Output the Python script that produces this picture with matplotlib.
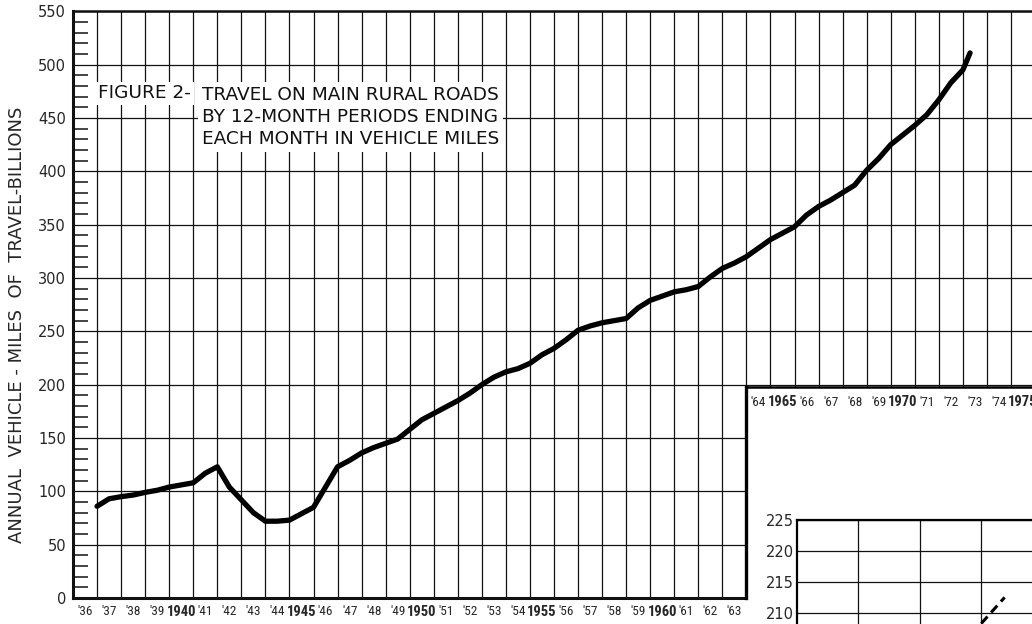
import numpy as np
import matplotlib
matplotlib.use('Agg')
import matplotlib.pyplot as plt
import matplotlib.font_manager as fm

# 12-month moving travel, billions of vehicle-miles
anios = [1937.0, 1937.5, 1938.0, 1938.5, 1939.0, 1939.5, 1940.0, 1940.5,
         1941.0, 1941.5, 1942.0, 1942.5, 1943.0, 1943.5, 1944.0, 1944.5,
         1945.0, 1945.5, 1946.0, 1946.5, 1947.0, 1947.5, 1948.0, 1948.5,
         1949.0, 1949.5, 1950.0, 1950.5, 1951.0, 1951.5, 1952.0, 1952.5,
         1953.0, 1953.5, 1954.0, 1954.5, 1955.0, 1955.5, 1956.0, 1956.5,
         1957.0, 1957.5, 1958.0, 1958.5, 1959.0, 1959.5, 1960.0, 1960.5,
         1961.0, 1961.5, 1962.0, 1962.5, 1963.0, 1963.5, 1964.0, 1964.5,
         1965.0, 1965.5, 1966.0, 1966.5, 1967.0, 1967.5, 1968.0, 1968.5,
         1969.0, 1969.5, 1970.0, 1970.5, 1971.0, 1971.5, 1972.0, 1972.5,
         1973.0, 1973.3]
millas = [86, 93, 95, 96.5, 99, 101, 104, 106,
          108, 117, 123, 104, 92, 80, 72, 72,
          73, 79, 85, 104, 123, 129, 136, 141,
          145, 149, 158, 167, 173, 179, 185, 192,
          200, 207, 212, 215, 220, 228, 234, 242,
          251, 255, 258, 260, 262, 272, 279, 283,
          287, 289, 292, 301, 309, 314, 320, 328,
          336, 342, 348, 359, 367, 373, 380, 387,
          401, 412, 425, 434, 443, 453, 467, 483,
          495, 511]

ticks_y = [0, 50, 100, 150, 200, 250, 300, 350, 400, 450, 500, 550]
anios_abajo = list(range(1936, 1964))
anios_caja = list(range(1964, 1976))

# small inset in the corner (only its top part is on the page)
inset_x = [3.01, 3.39]
inset_y = [208.3, 212.5]
inset_ticks = [210, 215, 220, 225]

titulo1 = 'FIGURE 2-'
titulo2 = 'TRAVEL ON MAIN RURAL ROADS\nBY 12-MONTH PERIODS ENDING\nEACH MONTH IN VEHICLE MILES'
ylabel = 'ANNUAL  VEHICLE - MILES  OF  TRAVEL-BILLIONS'

tinta = '#111111'
gris = '#262626'

nombres = {f.name for f in fm.fontManager.ttflist}
angosta = 'DejaVu Sans'
for n in ['Liberation Sans Narrow', 'DejaVu Sans Condensed', 'Roboto Condensed']:
    if n in nombres:
        angosta = n
        break


def etiqueta(a):
    if a % 5 == 0:
        return str(a)
    return "'" + str(a)[2:]


W, H = 1032, 624


def caja(x0, y0, x1, y1):
    # pixel box -> figure fraction
    return [x0 / W, 1 - y1 / H, (x1 - x0) / W, (y1 - y0) / H]


fig = plt.figure(figsize=(10.32, 6.24), dpi=100)

# main chart
ax = fig.add_axes(caja(73, 11.3, 1035, 598))
ax.set_xlim(1936, 1976)
ax.set_ylim(0, 550)

ax.set_xticks(range(1936, 1977))
ax.set_xticklabels([])
ax.set_xticks([a + 0.5 for a in anios_abajo], minor=True)
ax.set_xticklabels([etiqueta(a) for a in anios_abajo], minor=True)
ax.tick_params(axis='x', which='both', length=0)
ax.tick_params(axis='x', which='minor', pad=5, labelsize=9.5, labelcolor=gris)
for lbl, a in zip(ax.xaxis.get_minorticklabels(), anios_abajo):
    lbl.set_family(angosta)
    if a % 5 == 0:
        lbl.set_fontweight('bold')
        lbl.set_fontsize(10.5)

ax.set_yticks(ticks_y)
ax.set_yticks(np.arange(0, 551, 10), minor=True)
ax.tick_params(axis='y', which='major', length=0, pad=5, labelsize=10.5, labelcolor=gris)
ax.tick_params(axis='y', which='minor', direction='in', length=11, width=1.1, color=tinta)

ax.grid(True, which='major', color=tinta, lw=0.9)
ax.set_axisbelow(True)

ax.spines['right'].set_visible(False)
ax.spines['bottom'].set_bounds(1936, 1964)
ax.spines['bottom'].set_linewidth(2.2)
ax.spines['left'].set_linewidth(2.2)
ax.spines['top'].set_linewidth(1.8)
for s in ax.spines.values():
    s.set_color(tinta)

ax.plot(anios, millas, color='black', lw=3.8, solid_capstyle='round', zorder=5)

ax.set_ylabel(ylabel, fontsize=13, color=gris)
ax.yaxis.set_label_coords(-0.049, 0.465)

ax.text(1937.04, 473, titulo1, fontsize=13.3, color=tinta, ha='left', va='center',
        bbox=dict(facecolor='white', edgecolor='none', pad=2), zorder=6)
ax.text(1941.36, 451, titulo2, fontsize=13.3, color=tinta, ha='left', va='center',
        linespacing=1.27, bbox=dict(facecolor='white', edgecolor='none', pad=3), zorder=6)

# white box over the lower right corner
ax2 = fig.add_axes(caja(746.4, 387, 1035, 598))
ax2.set_facecolor('white')
ax2.set_xlim(1964, 1976)
ax2.set_ylim(0, 1)
ax2.set_yticks([])
ax2.set_xticks([a + 0.5 for a in anios_caja])
ax2.set_xticklabels([etiqueta(a) for a in anios_caja])
ax2.xaxis.tick_top()
ax2.tick_params(axis='x', length=0, pad=-16, labelsize=9.5, labelcolor=gris)
for lbl, a in zip(ax2.get_xticklabels(), anios_caja):
    lbl.set_family(angosta)
    if a % 5 == 0:
        lbl.set_fontweight('bold')
        lbl.set_fontsize(10.5)
ax2.spines['right'].set_visible(False)
ax2.spines['bottom'].set_visible(False)
ax2.spines['left'].set_linewidth(2.4)
ax2.spines['top'].set_linewidth(1.8)

# inset chart
ax3 = fig.add_axes(caja(797, 520, 1042, 624))
ax3.set_xlim(0, 4)
ax3.set_ylim(208.2, 225)
ax3.set_xticks([1, 2, 3])
ax3.set_xticklabels([])
ax3.set_yticks(inset_ticks)
ax3.tick_params(axis='both', length=0)
ax3.tick_params(axis='y', pad=2, labelsize=10.5, labelcolor=gris)
ax3.grid(True, color=tinta, lw=0.9)
ax3.spines['right'].set_visible(False)
ax3.spines['bottom'].set_visible(False)
ax3.spines['left'].set_linewidth(1.6)
ax3.spines['top'].set_linewidth(1.6)
ax3.plot(inset_x, inset_y, color='black', lw=2.2, dashes=(3, 1.8))

fig.savefig('out.png', dpi=100)
